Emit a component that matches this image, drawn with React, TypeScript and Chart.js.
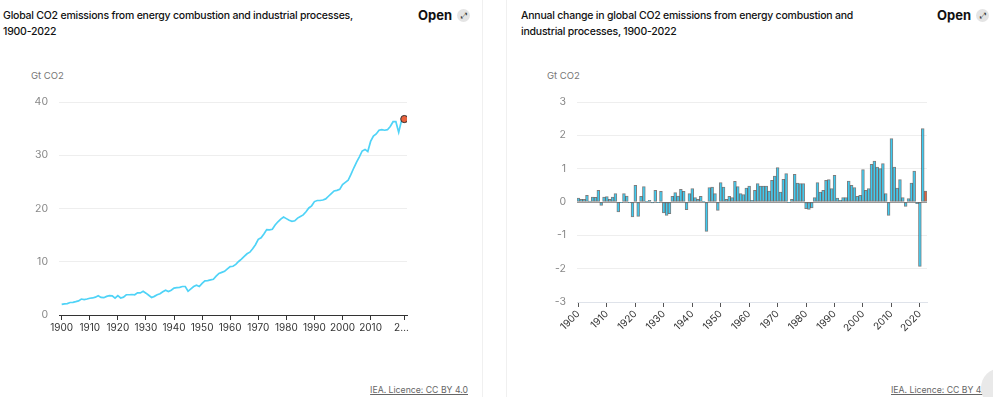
import React, { useEffect, useRef } from "react";
import { Chart, registerables } from "chart.js";
Chart.register(...registerables);

const years = [
  1900, 1901, 1902, 1903, 1904, 1905, 1906, 1907, 1908, 1909,
  1910, 1911, 1912, 1913, 1914, 1915, 1916, 1917, 1918, 1919,
  1920, 1921, 1922, 1923, 1924, 1925, 1926, 1927, 1928, 1929,
  1930, 1931, 1932, 1933, 1934, 1935, 1936, 1937, 1938, 1939,
  1940, 1941, 1942, 1943, 1944, 1945, 1946, 1947, 1948, 1949,
  1950, 1951, 1952, 1953, 1954, 1955, 1956, 1957, 1958, 1959,
  1960, 1961, 1962, 1963, 1964, 1965, 1966, 1967, 1968, 1969,
  1970, 1971, 1972, 1973, 1974, 1975, 1976, 1977, 1978, 1979,
  1980, 1981, 1982, 1983, 1984, 1985, 1986, 1987, 1988, 1989,
  1990, 1991, 1992, 1993, 1994, 1995, 1996, 1997, 1998, 1999,
  2000, 2001, 2002, 2003, 2004, 2005, 2006, 2007, 2008, 2009,
  2010, 2011, 2012, 2013, 2014, 2015, 2016, 2017, 2018, 2019,
  2020, 2021, 2022,
];

// Gt CO2
const emissions = [
  2.0, 2.1, 2.15, 2.35, 2.38, 2.5, 2.65, 3.0, 2.9, 3.0,
  3.15, 3.2, 3.35, 3.6, 3.3, 3.25, 3.5, 3.65, 3.6, 3.15,
  3.65, 3.2, 3.35, 3.8, 3.8, 3.85, 3.8, 4.15, 4.15, 4.45,
  4.1, 3.7, 3.3, 3.5, 3.8, 4.0, 4.35, 4.65, 4.4, 4.65,
  5.05, 5.15, 5.2, 5.35, 5.35, 4.45, 4.9, 5.35, 5.6, 5.35,
  5.95, 6.4, 6.45, 6.6, 6.7, 7.3, 7.8, 8.0, 8.2, 8.65,
  9.1, 9.15, 9.5, 10.05, 10.5, 11.0, 11.5, 11.8, 12.45, 13.2,
  14.2, 14.5, 15.2, 16.05, 16.0, 16.1, 16.9, 17.5, 18.0, 18.4,
  18.1, 17.8, 17.6, 17.7, 18.2, 18.5, 18.8, 19.4, 20.1, 20.5,
  21.3, 21.5, 21.5, 21.6, 21.8, 22.3, 22.8, 23.3, 23.4, 23.6,
  24.5, 24.9, 25.3, 26.4, 27.6, 28.7, 29.7, 30.8, 31.1, 30.7,
  32.6, 33.6, 34.0, 34.7, 34.8, 34.7, 34.8, 35.4, 36.3, 36.3,
  34.3, 36.5, 36.8,
];

// Annual change, Gt CO2
const changes = [
  0.12, 0.08, 0.08, 0.2, 0.03, 0.15, 0.14, 0.35, -0.1, 0.15,
  0.16, 0.08, 0.15, 0.25, -0.3, -0.02, 0.25, 0.18, -0.02, -0.45,
  0.5, -0.43, 0.17, 0.46, 0.02, 0.05, -0.03, 0.35, -0.01, 0.32,
  -0.33, -0.4, -0.35, 0.17, 0.28, 0.18, 0.38, 0.32, -0.23, 0.25,
  0.4, 0.13, 0.08, 0.17, 0.02, -0.88, 0.43, 0.45, 0.25, -0.25,
  0.58, 0.45, 0.08, 0.17, 0.13, 0.62, 0.46, 0.25, 0.22, 0.42,
  0.48, 0.05, 0.35, 0.55, 0.48, 0.48, 0.48, 0.33, 0.65, 0.78,
  1.03, 0.3, 0.68, 0.85, -0.02, 0.08, 0.83, 0.57, 0.55, 0.55,
  -0.2, -0.22, -0.18, 0.13, 0.58, 0.3, 0.35, 0.65, 0.67, 0.4,
  0.8, 0.12, 0.05, 0.13, 0.13, 0.63, 0.5, 0.43, 0.17, 0.2,
  0.97, 0.35, 0.4, 1.13, 1.23, 1.05, 1.0, 1.15, 0.25, -0.4,
  1.9, 1.05, 0.42, 0.67, 0.13, -0.13, 0.1, 0.57, 0.93, -0.05,
  -1.93, 2.2, 0.33,
];

const lineTickYears = [1900, 1910, 1920, 1930, 1940, 1950, 1960, 1970, 1980, 1990, 2000, 2010, 2022];
const lineYTicks = [0, 10, 20, 30, 40];
const barYTicks = [-3, -2, -1, 0, 1, 2, 3];

const leftTitle = ["Global CO2 emissions from energy combustion and industrial processes,", "1900-2022"];
const rightTitle = ["Annual change in global CO2 emissions from energy combustion and", "industrial processes, 1900-2022"];
const unitLabel = "Gt CO2";
const credit = "IEA. Licence: CC BY 4.0";

const FONT = "Inter, 'Noto Sans', sans-serif";
const LINE_COLOR = "#4fd3f7";
const BAR_COLOR = "#3ccbf2";
const HIGHLIGHT = "#e8613c";

function OpenButton({ left }: { left: number }) {
  return (
    <div style={{ position: "absolute", left, top: 7, display: "flex", alignItems: "center", gap: 5 }}>
      <span style={{ fontWeight: 700, fontSize: 13, color: "#111" }}>Open</span>
      <span
        style={{
          width: 13, height: 13, borderRadius: "50%", background: "#e4e4e4",
          display: "inline-flex", alignItems: "center", justifyContent: "center",
          fontSize: 8, color: "#333", lineHeight: 1,
        }}
      >
        ⤢
      </span>
    </div>
  );
}

export default function App() {
  const lineRef = useRef<HTMLCanvasElement>(null);
  const barRef = useRef<HTMLCanvasElement>(null);

  useEffect(() => {
    Chart.defaults.font.family = FONT;
    const last = emissions.length - 1;
    const lineChart = new Chart(lineRef.current!, {
      type: "line",
      data: {
        datasets: [
          {
            data: years.map((y, i) => ({ x: y, y: emissions[i] })),
            borderColor: LINE_COLOR,
            borderWidth: 1.7,
            tension: 0,
            pointRadius: (ctx: any) => (ctx.dataIndex === last ? 3.6 : 0),
            pointBackgroundColor: HIGHLIGHT,
            pointBorderColor: "#333",
            pointBorderWidth: 1,
          },
        ],
      },
      options: {
        animation: false,
        responsive: false,
        maintainAspectRatio: false,
        layout: { padding: { top: 0, right: 73, left: 0, bottom: 0 } },
        plugins: { legend: { display: false }, tooltip: { enabled: false } },
        scales: {
          x: {
            type: "linear",
            min: 1899.04,
            max: 2022.96,
            afterBuildTicks: (s: any) => {
              s.ticks = lineTickYears.map((v) => ({ value: v }));
            },
            afterFit: (s: any) => {
              s.height = 25;
              s.paddingLeft = 0;
              s.paddingRight = 0;
            },
            ticks: {
              autoSkip: false,
              maxRotation: 0,
              color: "#333",
              padding: 2,
              font: { size: 10, family: FONT },
              callback: (v: any) => (v === 2022 ? "2…  " : String(v)),
            },
            grid: { drawOnChartArea: false, tickLength: 5, color: "#333" },
            border: { color: "#333", width: 1 },
          },
          y: {
            min: 0,
            max: 40,
            afterBuildTicks: (s: any) => {
              s.ticks = lineYTicks.map((v) => ({ value: v }));
            },
            afterFit: (s: any) => {
              s.width = 59;
              s.paddingTop = 12;
              s.paddingBottom = 0;
            },
            ticks: { padding: 11, color: "#888", font: { size: 10.5, family: FONT } },
            grid: { color: "#eeeeee", drawTicks: false },
            border: { display: false },
          },
        },
      },
    } as any);

    const lastBar = changes.length - 1;
    const barChart = new Chart(barRef.current!, {
      type: "bar",
      data: {
        labels: years.map(String),
        datasets: [
          {
            data: changes,
            backgroundColor: changes.map((_, i) => (i === lastBar ? HIGHLIGHT : BAR_COLOR)),
            borderColor: "rgba(40,40,40,0.6)",
            borderWidth: 1,
            borderSkipped: false,
            barPercentage: 1,
            categoryPercentage: 1,
          },
        ],
      },
      options: {
        animation: false,
        responsive: false,
        maintainAspectRatio: false,
        layout: { padding: { top: 0, right: 19, left: 0, bottom: 0 } },
        plugins: { legend: { display: false }, tooltip: { enabled: false } },
        scales: {
          x: {
            afterFit: (s: any) => {
              s.height = 38;
              s.paddingLeft = 0;
              s.paddingRight = 0;
            },
            ticks: {
              autoSkip: false,
              minRotation: 45,
              maxRotation: 45,
              color: "#333",
              padding: 1,
              font: { size: 10, family: FONT },
              callback: (_v: any, i: number) => (years[i] % 10 === 0 ? String(years[i]) : ""),
            },
            grid: {
              offset: false,
              drawOnChartArea: false,
              tickLength: 5,
              color: (ctx: any) => (years[ctx.index] % 10 === 0 ? "#555" : "rgba(0,0,0,0)"),
            },
            border: { color: "#dfe3ea", width: 1 },
          },
          y: {
            min: -3,
            max: 3,
            afterBuildTicks: (s: any) => {
              s.ticks = barYTicks.map((v) => ({ value: v }));
            },
            afterFit: (s: any) => {
              s.width = 71;
              s.paddingTop = 12;
              s.paddingBottom = 0;
            },
            ticks: { padding: 11, color: "#888", font: { size: 10.5, family: FONT } },
            grid: {
              color: (ctx: any) => (ctx.tick && ctx.tick.value === 0 ? "#999" : "#eeeeee"),
              drawTicks: false,
            },
            border: { display: false },
          },
        },
      },
    } as any);

    return () => {
      lineChart.destroy();
      barChart.destroy();
    };
  }, []);

  const titleStyle: React.CSSProperties = {
    position: "absolute",
    top: 8,
    fontFamily: FONT,
    fontSize: 10.5,
    letterSpacing: "-0.22px",
    fontWeight: 500,
    lineHeight: "16px",
    color: "#111",
    whiteSpace: "nowrap",
  };
  const unitStyle: React.CSSProperties = {
    position: "absolute",
    top: 70,
    fontFamily: FONT,
    fontSize: 9.5,
    color: "#777",
  };
  const creditStyle: React.CSSProperties = {
    position: "absolute",
    top: 385,
    fontFamily: FONT,
    fontSize: 8.7,
    color: "#666",
    textDecoration: "underline",
    whiteSpace: "nowrap",
  };

  return (
    <div
      style={{
        position: "fixed", left: 0, top: 0, width: 993, height: 397,
        background: "#fff", overflow: "hidden", fontFamily: FONT,
      }}
    >
      <div style={{ ...titleStyle, left: 3 }}>
        {leftTitle[0]}
        <br />
        {leftTitle[1]}
      </div>
      <OpenButton left={418} />
      <div style={{ ...unitStyle, left: 31 }}>{unitLabel}</div>
      <canvas ref={lineRef} width={480} height={250} style={{ position: "absolute", left: 0, top: 90 }} />
      <div style={{ ...creditStyle, right: 993 - 468 }}>{credit}</div>

      <div style={{ position: "absolute", left: 482, top: 0, width: 1, height: 397, background: "#f0f0f0" }} />
      <div style={{ position: "absolute", left: 506, top: 0, width: 1, height: 397, background: "#f0f0f0" }} />

      <div style={{ ...titleStyle, left: 521 }}>
        {rightTitle[0]}
        <br />
        {rightTitle[1]}
      </div>
      <OpenButton left={937} />
      <div style={{ ...unitStyle, left: 547 }}>{unitLabel}</div>
      <canvas ref={barRef} width={440} height={250} style={{ position: "absolute", left: 506, top: 90 }} />
      <div style={{ ...creditStyle, left: 891 }}>{credit}</div>

      <div
        style={{
          position: "absolute", left: 981, top: 368, width: 40, height: 40,
          borderRadius: "50%", background: "#e9e9e9",
        }}
      />
    </div>
  );
}
